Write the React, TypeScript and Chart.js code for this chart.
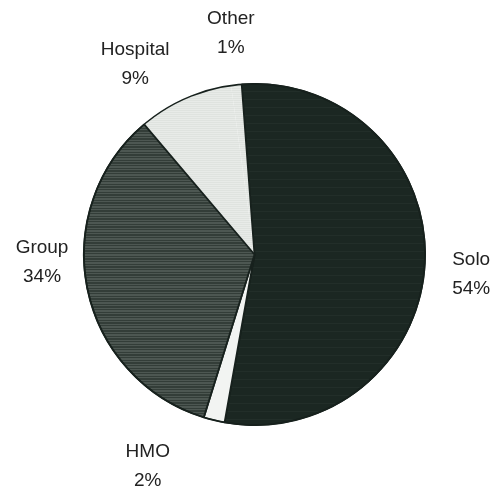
import React, { useEffect, useRef } from "react";
import { Chart, registerables } from "chart.js";

Chart.register(...registerables);

// slices listed clockwise, starting at the Hospital slice
const categories = ["Hospital", "Other", "Solo", "HMO", "Group"];
const shares = [9, 1, 54, 2, 34];
const pctLabels = ["9%", "1%", "54%", "2%", "34%"];

// label placement tweaks (style only)
const labelNudgeDeg = [-8, 0, 2.4, 13, 9.5];
const labelGap = [54, 52, 47, 67, 42];

function makePattern(a: string, b: string, rows: number[]): CanvasPattern | string {
  const c = document.createElement("canvas");
  c.width = 8;
  c.height = rows.length;
  const ctx = c.getContext("2d");
  if (!ctx) return a;
  rows.forEach((r, i) => {
    ctx.fillStyle = r ? b : a;
    ctx.fillRect(0, i, 8, 1);
  });
  const p = ctx.createPattern(c, "repeat");
  return p || a;
}

const outlinePlugin = {
  id: "outline",
  afterDatasetsDraw(chart: any) {
    const meta = chart.getDatasetMeta(0);
    const arc = meta.data[0];
    if (!arc) return;
    const p = arc.getProps(["x", "y", "outerRadius"], true);
    const ctx = chart.ctx;
    ctx.save();
    ctx.strokeStyle = "#17211d";
    ctx.lineWidth = 1.6;
    ctx.beginPath();
    ctx.arc(p.x, p.y, p.outerRadius, 0, Math.PI * 2);
    ctx.stroke();
    ctx.restore();
  },
};

const labelPlugin = {
  id: "outerLabels",
  afterDraw(chart: any) {
    const meta = chart.getDatasetMeta(0);
    const ctx = chart.ctx;
    ctx.save();
    ctx.fillStyle = "#222222";
    ctx.font = '19px "Liberation Sans", Arial, sans-serif';
    ctx.textAlign = "center";
    ctx.textBaseline = "middle";
    meta.data.forEach((arc: any, i: number) => {
      const p = arc.getProps(["x", "y", "startAngle", "endAngle", "outerRadius"], true);
      const mid = (p.startAngle + p.endAngle) / 2 + (labelNudgeDeg[i] * Math.PI) / 180;
      const d = p.outerRadius + labelGap[i];
      const cx = p.x + Math.cos(mid) * d;
      const cy = p.y + Math.sin(mid) * d;
      ctx.fillText(categories[i], cx, cy - 14.5);
      ctx.fillText(pctLabels[i], cx, cy + 14.5);
    });
    ctx.restore();
  },
};

export default function App() {
  const ref = useRef<HTMLCanvasElement | null>(null);
  useEffect(() => {
    if (!ref.current) return;
    const groupPat = makePattern("#333d38", "#4d5752", [0, 1, 0, 0, 1, 0, 1, 1]);
    const soloPat = makePattern("#1b2722", "#222e29", [0, 0, 0, 1, 0, 0, 0, 0]);
    const hospPat = makePattern("#dfe3df", "#e8ebe8", [0, 1]);
    const chart = new Chart(ref.current, {
      type: "pie",
      data: {
        labels: categories,
        datasets: [
          {
            data: shares,
            backgroundColor: [hospPat, hospPat, soloPat, "#f2f4f2", groupPat] as any,
            borderColor: ["#dfe3df", "#dfe3df", "#17211d", "#17211d", "#17211d"],
            borderWidth: [0, 0, 1.8, 1.8, 1.8],
          },
        ],
      },
      options: {
        responsive: false,
        animation: false,
        rotation: 319.7,
        layout: { padding: { left: 83, right: 76, top: 83, bottom: 61 } },
        plugins: {
          legend: { display: false },
          tooltip: { enabled: false },
          title: { display: false },
        },
      },
      plugins: [outlinePlugin, labelPlugin],
    });
    return () => chart.destroy();
  }, []);
  return (
    <div style={{ position: "fixed", left: 0, top: 0, width: 502, height: 487, background: "#ffffff" }}>
      <canvas ref={ref} width={502} height={487} style={{ width: 502, height: 487, display: "block" }} />
    </div>
  );
}
